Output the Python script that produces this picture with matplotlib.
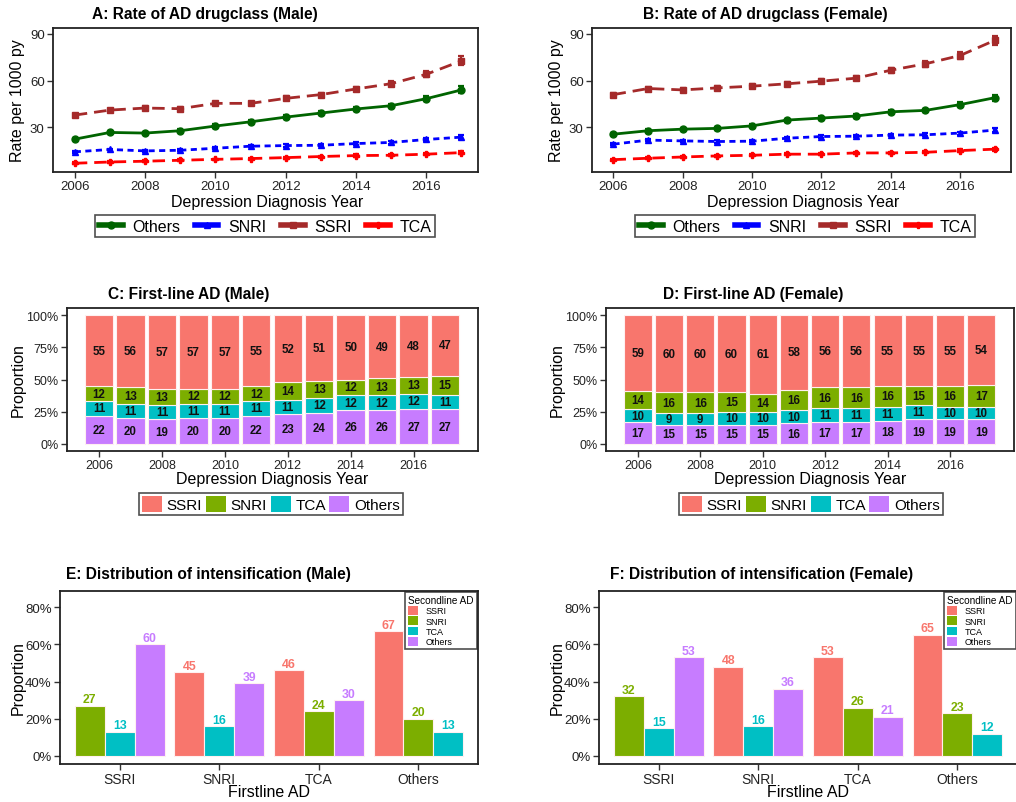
import matplotlib
matplotlib.use("Agg")
import matplotlib.pyplot as plt
from matplotlib.lines import Line2D
from matplotlib.patches import Patch
import numpy as np

plt.rcParams['font.family'] = ['Liberation Sans', 'DejaVu Sans']

# ---------------- data ----------------
years = [2006, 2007, 2008, 2009, 2010, 2011, 2012, 2013, 2014, 2015, 2016, 2017]

male_rate_others = [22.5, 26.8, 26.4, 27.9, 30.9, 33.6, 36.6, 39.2, 41.8, 43.9, 48.4, 54.0]
male_rate_snri = [14.4, 15.9, 15.0, 15.4, 16.7, 18.0, 18.4, 18.6, 19.7, 20.4, 22.3, 23.8]
male_rate_ssri = [37.9, 41.1, 42.4, 42.0, 45.4, 45.4, 48.6, 51.0, 54.6, 58.0, 64.0, 72.6]
male_rate_tca = [7.1, 7.9, 8.4, 9.0, 9.6, 10.1, 10.7, 11.4, 12.0, 12.2, 12.9, 13.9]
male_err_others = [0.8, 0.9, 0.9, 0.9, 1.0, 1.0, 1.1, 1.1, 1.2, 1.3, 1.6, 2.2]
male_err_snri = [0.6, 0.6, 0.6, 0.6, 0.7, 0.7, 0.7, 0.7, 0.8, 0.9, 1.0, 1.3]
male_err_ssri = [1.0, 1.0, 1.0, 1.0, 1.1, 1.1, 1.2, 1.3, 1.4, 1.6, 2.0, 2.8]
male_err_tca = [0.5, 0.5, 0.5, 0.5, 0.5, 0.6, 0.6, 0.6, 0.7, 0.7, 0.8, 1.0]

female_rate_others = [25.7, 27.9, 28.9, 29.4, 31.0, 34.7, 36.0, 37.3, 40.0, 40.9, 44.6, 49.0]
female_rate_snri = [19.3, 21.9, 21.4, 21.0, 21.2, 23.1, 24.2, 24.4, 25.1, 25.3, 26.4, 28.3]
female_rate_ssri = [51.0, 54.9, 54.0, 55.3, 56.4, 57.9, 59.6, 61.5, 66.6, 70.7, 76.0, 85.7]
female_rate_tca = [9.4, 10.3, 11.1, 11.8, 12.2, 12.9, 12.9, 13.7, 13.7, 14.1, 15.2, 16.1]
female_err_others = [0.8, 0.8, 0.9, 0.9, 0.9, 1.0, 1.0, 1.0, 1.1, 1.2, 1.4, 1.8]
female_err_snri = [0.6, 0.7, 0.7, 0.7, 0.7, 0.7, 0.8, 0.8, 0.8, 0.9, 1.0, 1.2]
female_err_ssri = [1.2, 1.2, 1.2, 1.2, 1.3, 1.3, 1.4, 1.4, 1.6, 1.8, 2.1, 2.8]
female_err_tca = [0.5, 0.5, 0.5, 0.6, 0.6, 0.6, 0.6, 0.6, 0.7, 0.7, 0.8, 1.0]

classes = ['SSRI', 'SNRI', 'TCA', 'Others']

male_first_ssri = [55, 56, 57, 57, 57, 55, 52, 51, 50, 49, 48, 47]
male_first_snri = [12, 13, 13, 12, 12, 12, 14, 13, 12, 13, 13, 15]
male_first_tca = [11, 11, 11, 11, 11, 11, 11, 12, 12, 12, 12, 11]
male_first_others = [22, 20, 19, 20, 20, 22, 23, 24, 26, 26, 27, 27]

female_first_ssri = [59, 60, 60, 60, 61, 58, 56, 56, 55, 55, 55, 54]
female_first_snri = [14, 16, 16, 15, 14, 16, 16, 16, 16, 15, 16, 17]
female_first_tca = [10, 9, 9, 10, 10, 10, 11, 11, 11, 11, 10, 10]
female_first_others = [17, 15, 15, 15, 15, 16, 17, 17, 18, 19, 19, 19]

# intensification: first-line category -> (second-line classes, percents)
male_int_second = [['SNRI', 'TCA', 'Others'], ['SSRI', 'TCA', 'Others'],
                   ['SSRI', 'SNRI', 'Others'], ['SSRI', 'SNRI', 'TCA']]
male_int_values = [[27, 13, 60], [45, 16, 39], [46, 24, 30], [67, 20, 13]]
female_int_second = [['SNRI', 'TCA', 'Others'], ['SSRI', 'TCA', 'Others'],
                     ['SSRI', 'SNRI', 'Others'], ['SSRI', 'SNRI', 'TCA']]
female_int_values = [[32, 15, 53], [48, 16, 36], [53, 26, 21], [65, 23, 12]]

# ---------------- styling ----------------
W, H = 1016, 803
fig = plt.figure(figsize=(W / 100, H / 100), dpi=100)

fill_col = {'SSRI': '#F8766D', 'SNRI': '#7CAE00', 'TCA': '#00BFC4', 'Others': '#C77CFF'}
line_style = {
    'Others': dict(color='#006400', ls='-', marker='o'),
    'SNRI': dict(color='#0000FF', ls=(0, (2.2, 1.6)), marker='^'),
    'SSRI': dict(color='#A52A2A', ls=(0, (4.5, 2.5)), marker='s'),
    'TCA': dict(color='#FF0000', ls=(0, (4.5, 2.5)), marker='P'),
}
tick_col = '#333333'


def ax_at(x0, y0, x1, y1):
    return fig.add_axes([x0 / W, 1 - y1 / H, (x1 - x0) / W, (y1 - y0) / H])


def ftext(x, y, s, **kw):
    kw.setdefault('ha', 'center')
    kw.setdefault('va', 'center')
    fig.text(x / W, 1 - y / H, s, **kw)


def style_ax(ax):
    for sp in ax.spines.values():
        sp.set_color('#222222')
        sp.set_linewidth(1.3)
    ax.tick_params(axis='both', direction='out', length=4, width=1, color=tick_col,
                   labelsize=9, labelcolor='#222222', pad=2)


def rate_panel(box, title, title_xy, ylab_x, xlab_y, leg_xy, series, errs):
    ax = ax_at(*box)
    style_ax(ax)
    order = ['Others', 'SNRI', 'SSRI', 'TCA']
    for name in order:
        st = line_style[name]
        ax.errorbar(years, series[name], yerr=errs[name], color=st['color'], ls=st['ls'],
                    marker=st['marker'], markersize=5, lw=2.0, elinewidth=1.6,
                    capsize=2.5, capthick=1.6)
    ax.set_xlim(2005.38, 2017.47)
    ax.set_ylim(1.5, 93.6)
    ax.set_yticks([30, 60, 90])
    ax.set_xticks([2006, 2008, 2010, 2012, 2014, 2016])
    ax.tick_params(labelsize=9.5)
    ftext(title_xy[0], title_xy[1], title, fontsize=11.2, fontweight='bold')
    ftext(ylab_x, (box[1] + box[3]) / 2, 'Rate per 1000 py', fontsize=11.5, rotation=90)
    ftext((box[0] + box[2]) / 2 + 2, xlab_y, 'Depression Diagnosis Year', fontsize=11.5)
    handles = [Line2D([], [], color=line_style[n]['color'], ls='-',
                      marker=line_style[n]['marker'], lw=4, markersize=5) for n in order]
    leg = fig.legend(handles, order, loc='center', ncol=4,
                     bbox_to_anchor=(leg_xy[0] / W, 1 - leg_xy[1] / H),
                     fontsize=11.5, frameon=True, fancybox=False, handlelength=1.5,
                     handletextpad=0.6, columnspacing=0.9, borderpad=0.25)
    leg.get_frame().set_edgecolor('#222222')
    leg.get_frame().set_linewidth(1.2)
    return ax


rate_panel((53, 29, 478, 173), 'A: Rate of AD drugclass (Male)', (205, 14), 18, 202, (265, 227),
           {'Others': male_rate_others, 'SNRI': male_rate_snri,
            'SSRI': male_rate_ssri, 'TCA': male_rate_tca},
           {'Others': male_err_others, 'SNRI': male_err_snri,
            'SSRI': male_err_ssri, 'TCA': male_err_tca})
rate_panel((592, 29, 1011, 173), 'B: Rate of AD drugclass (Female)', (765, 14), 557, 202, (805, 227),
           {'Others': female_rate_others, 'SNRI': female_rate_snri,
            'SSRI': female_rate_ssri, 'TCA': female_rate_tca},
           {'Others': female_err_others, 'SNRI': female_err_snri,
            'SSRI': female_err_ssri, 'TCA': female_err_tca})


def first_panel(box, title, title_xy, ylab_x, xlab_y, leg_xy, vals):
    ax = ax_at(*box)
    style_ax(ax)
    bottom = np.zeros(len(years))
    for name in ['Others', 'TCA', 'SNRI', 'SSRI']:
        v = np.array(vals[name]) / 100.0
        ax.bar(years, v, bottom=bottom, width=0.9, color=fill_col[name],
               edgecolor='#FFF0F0', linewidth=0.8)
        for x, b, h, lab in zip(years, bottom, v, vals[name]):
            ax.text(x, b + h / 2, str(lab), ha='center', va='center', fontsize=8.3,
                    fontweight='bold', color='#111111')
        bottom += v
    ax.set_xlim(2004.98, 2018.05)
    ax.set_ylim(-0.055, 1.055)
    ax.set_yticks([0, 0.25, 0.5, 0.75, 1.0])
    ax.set_yticklabels(['0%', '25%', '50%', '75%', '100%'])
    ax.set_xticks([2006, 2008, 2010, 2012, 2014, 2016])
    ftext(title_xy[0], title_xy[1], title, fontsize=11.2, fontweight='bold')
    ftext(ylab_x, (box[1] + box[3]) / 2, 'Proportion', fontsize=11.5, rotation=90)
    ftext((box[0] + box[2]) / 2, xlab_y, 'Depression Diagnosis Year', fontsize=11.5)
    handles = [Patch(facecolor=fill_col[n], edgecolor='none') for n in classes]
    leg = fig.legend(handles, classes, loc='center', ncol=4,
                     bbox_to_anchor=(leg_xy[0] / W, 1 - leg_xy[1] / H),
                     fontsize=11, frameon=True, fancybox=False, handlelength=1.3,
                     handleheight=1.3, handletextpad=0.3, columnspacing=0.25, borderpad=0.2)
    leg.get_frame().set_edgecolor('#222222')
    leg.get_frame().set_linewidth(1.2)


first_panel((67, 309, 478, 452), 'C: First-line AD (Male)', (189, 295), 18, 480, (271, 505),
            {'SSRI': male_first_ssri, 'SNRI': male_first_snri,
             'TCA': male_first_tca, 'Others': male_first_others})
first_panel((606, 309, 1014, 452), 'D: First-line AD (Female)', (753, 295), 557, 480, (811, 505),
            {'SSRI': female_first_ssri, 'SNRI': female_first_snri,
             'TCA': female_first_tca, 'Others': female_first_others})


def int_panel(box, title, title_xy, ylab_x, xlab_y, seconds, values):
    ax = ax_at(*box)
    style_ax(ax)
    for gi, (secs, vs) in enumerate(zip(seconds, values)):
        for bi, (s, v) in enumerate(zip(secs, vs)):
            x = gi + (bi - 1) * 0.3
            ax.bar(x, v / 100.0, width=0.3, color=fill_col[s], edgecolor='#FFF0F0',
                   linewidth=0.8)
            ax.text(x, v / 100.0 + 0.003, str(v), ha='center', va='bottom', fontsize=8.8,
                    fontweight='bold', color=fill_col[s])
    ax.set_xlim(-0.6, 3.6)
    ax.set_ylim(-0.043, 0.886)
    ax.set_yticks([0, 0.2, 0.4, 0.6, 0.8])
    ax.set_yticklabels(['0%', '20%', '40%', '60%', '80%'])
    ax.set_xticks(range(4))
    ax.set_xticklabels(classes)
    ax.tick_params(axis='x', labelsize=10)
    ax.tick_params(axis='y', labelsize=9.5)
    ftext(title_xy[0], title_xy[1], title, fontsize=11.2, fontweight='bold')
    ftext(ylab_x, (box[1] + box[3]) / 2, 'Proportion', fontsize=11.5, rotation=90)
    ftext((box[0] + box[2]) / 2, xlab_y, 'Firstline AD', fontsize=11.5)
    handles = [Patch(facecolor=fill_col[n], edgecolor='none') for n in classes]
    leg = ax.legend(handles, classes, loc='upper right', bbox_to_anchor=(1.0, 1.0),
                    title='Secondline AD', fontsize=6.5, title_fontsize=7.2, frameon=True,
                    fancybox=False, handlelength=1.1, handleheight=1.1, handletextpad=0.8,
                    labelspacing=0.1, borderpad=0.35, borderaxespad=0.1)
    leg._legend_box.align = 'left'
    leg.get_frame().set_edgecolor('#222222')
    leg.get_frame().set_linewidth(1.2)


int_panel((60, 592, 478, 765), 'E: Distribution of intensification (Male)', (208, 575), 18, 793,
          male_int_second, male_int_values)
int_panel((599, 592, 1017, 765), 'F: Distribution of intensification (Female)', (762, 575), 557, 793,
          female_int_second, female_int_values)

fig.savefig('out.png', dpi=100)
